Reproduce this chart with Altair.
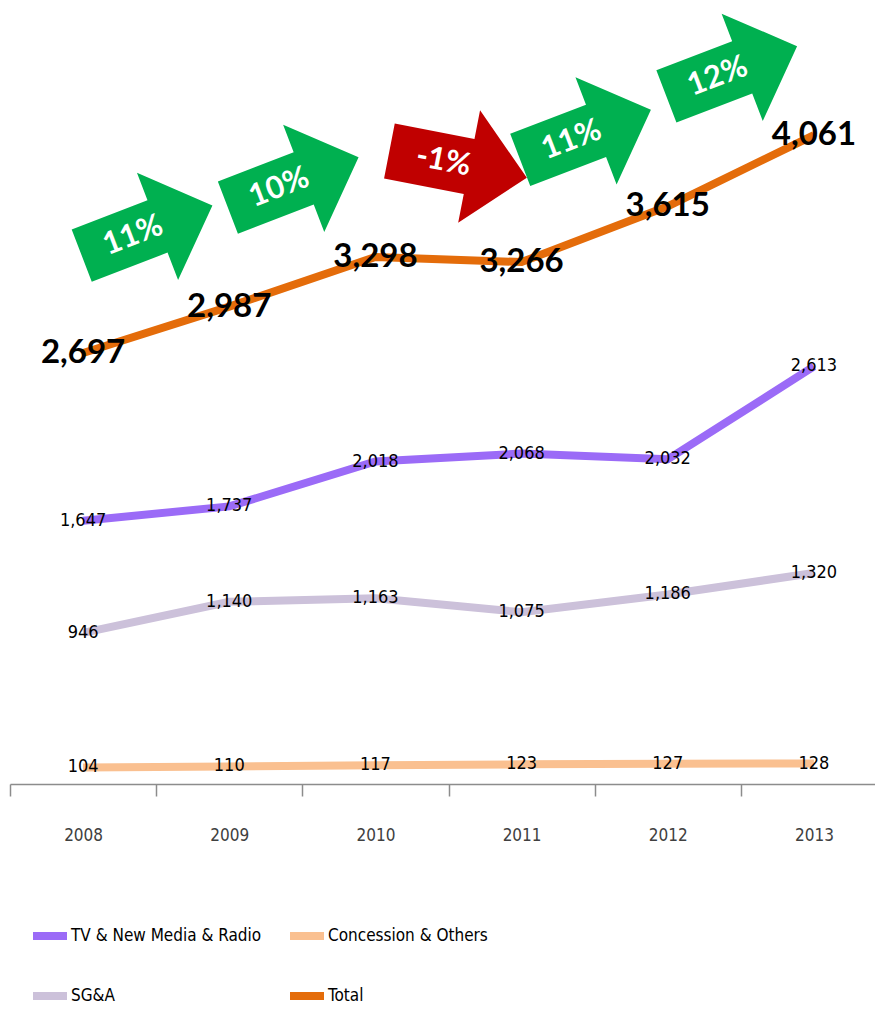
import altair as alt
import pandas as pd

years = ["2008", "2009", "2010", "2011", "2012", "2013"]
tv = [1647, 1737, 2018, 2068, 2032, 2613]
concession = [104, 110, 117, 123, 127, 128]
sga = [946, 1140, 1163, 1075, 1186, 1320]
total = [2697, 2987, 3298, 3266, 3615, 4061]
# legend fills column by column: TV / SG&A in the first column
series_names = ["TV & New Media & Radio", "SG&A", "Concession & Others", "Total"]
series_colors = ["#9B6BF7", "#CCC1DA", "#FAC090", "#E46C0A"]
series_values = [tv, sga, concession, total]
growth_labels = ["11%", "10%", "-1%", "11%", "12%"]

NARROW = "DejaVu Sans Condensed, DejaVu Sans, sans-serif"
BOLD = "Lato, Open Sans, sans-serif"

rows = []
for name, vals in zip(series_names, series_values):
    for yr, v in zip(years, vals):
        rows.append({"year": yr, "series": name, "value": v})
df = pd.DataFrame(rows)

arrows = pd.DataFrame({
    "year": years[:-1],
    "mid": [(a + b) / 2 for a, b in zip(total[:-1], total[1:])],
    "growth": [b / a - 1 for a, b in zip(total[:-1], total[1:])],
    "label": growth_labels,
})

# the category axis runs past the right edge of the picture, as in the original
x_scale = alt.Scale(type="band", domain=years, range=[0, 877],
                    paddingInner=0, paddingOuter=0)
x_enc = alt.X(
    "year:N",
    scale=x_scale,
    axis=alt.Axis(
        title=None, tickBand="extent", tickSize=12, tickColor="#8c8c8c",
        domainColor="#8c8c8c", domainWidth=1.5, tickWidth=1.5,
        labelFont=NARROW, labelFontSize=17, labelColor="#404040",
        labelPadding=31, labelAngle=0,
    ),
)
y_scale = alt.Scale(domain=[0, 4856], nice=False, zero=True)

base = alt.Chart(df).encode(
    x=x_enc,
    y=alt.Y("value:Q", scale=y_scale, axis=None),
)

lines = base.mark_line(strokeWidth=8).encode(
    color=alt.Color(
        "series:N",
        scale=alt.Scale(domain=series_names, range=series_colors),
        legend=alt.Legend(
            title=None, orient="none", legendX=19, legendY=907, columns=2,
            symbolType="stroke", symbolStrokeWidth=8, symbolSize=1156,
            labelFont=NARROW, labelFontSize=17, labelColor="#000000",
            labelOffset=0, rowPadding=23, columnPadding=12, labelLimit=400,
            padding=0,
        ),
    ),
    detail="series:N",
)

small_labels = base.transform_filter("datum.series != 'Total'").mark_text(
    font=NARROW, fontSize=18, color="#000000", align="center", baseline="middle"
).encode(text=alt.Text("value:Q", format=","))

total_labels = base.transform_filter("datum.series == 'Total'").mark_text(
    font=BOLD, fontSize=33, fontWeight="bold", color="#000000",
    align="center", baseline="middle"
).encode(text=alt.Text("value:Q", format=","))

arrow_path = "M -0.786 -0.4 L 0.374 -0.4 L 0.374 -0.82 L 1.214 0 L 0.374 0.82 L 0.374 0.4 L -0.786 0.4 Z"

arrow_base = alt.Chart(arrows).encode(
    x=alt.X("year:N", scale=x_scale),
    y=alt.Y("mid:Q", scale=y_scale),
)

up = arrow_base.transform_filter("datum.growth >= 0")
down = arrow_base.transform_filter("datum.growth < 0")

up_arrow = up.mark_point(
    shape=arrow_path, filled=True, fill="#00B050", opacity=1, strokeWidth=0,
    size=19600, angle=339, xOffset=50, yOffset=-94,
)
up_text = up.mark_text(
    font=BOLD, fontSize=31, fontWeight="bold", color="white", angle=339,
    xOffset=50, yOffset=-94, align="center", baseline="middle",
).encode(text="label:N")

down_arrow = down.mark_point(
    shape=arrow_path, filled=True, fill="#C00000", opacity=1, strokeWidth=0,
    size=19600, angle=11, xOffset=68, yOffset=-98,
)
down_text = down.mark_text(
    font=BOLD, fontSize=31, fontWeight="bold", color="white", angle=11,
    xOffset=68, yOffset=-98, align="center", baseline="middle",
).encode(text="label:N")

chart = alt.layer(
    lines, small_labels, total_labels, up_arrow, up_text, down_arrow, down_text
).properties(
    width=865, height=776,
    autosize=alt.AutoSizeParams(type="none"),
    padding={"left": 2, "top": 0, "right": 0, "bottom": 220},
).configure_view(stroke=None)

chart.save("out.html", embed_options={"renderer": "svg", "actions": False})
